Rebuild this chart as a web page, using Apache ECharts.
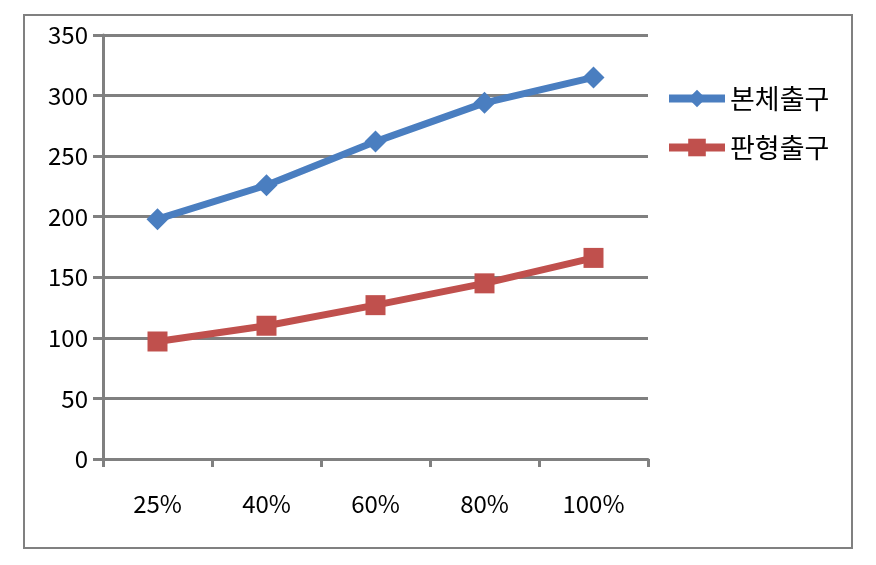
<!DOCTYPE html>
<html>
<head>
<meta charset="utf-8">
<script src="https://cdn.jsdelivr.net/npm/echarts@6/dist/echarts.min.js"></script>
<style>
  html, body { margin: 0; padding: 0; background: #fff; }
  #chart { width: 876px; height: 565px; }
</style>
</head>
<body>
<div id="chart"></div>
<script>
var categories = ['25%', '40%', '60%', '80%', '100%'];
var bodyOut = [198, 226, 262, 294, 315];
var plateOut = [97, 110, 127, 145, 166];
var names = ['본체출구', '판형출구'];

var myChart = echarts.init(document.getElementById('chart'));
var font = '"Noto Sans CJK KR", "Noto Sans", sans-serif';

var option = {
  backgroundColor: '#fff',
  animation: false,
  graphic: [{
    type: 'rect',
    shape: { x: 24, y: 15, width: 828, height: 533 },
    style: { fill: 'none', stroke: '#808080', lineWidth: 2 }
  }],
  legend: {
    orient: 'vertical',
    left: 660,
    top: 80,
    itemWidth: 56,
    itemHeight: 22,
    itemGap: 22,
    lineStyle: { width: 8 },
    textStyle: { fontFamily: font, fontSize: 27, color: '#000', padding: [10, 0, 0, 0] },
    data: names
  },
  grid: { left: 103, right: 228, top: 35, bottom: 106 },
  xAxis: {
    type: 'category',
    data: categories,
    boundaryGap: true,
    axisLine: { lineStyle: { color: '#808080', width: 3 } },
    axisTick: { show: true, length: 8, lineStyle: { color: '#808080', width: 3 } },
    axisLabel: { margin: 33, fontFamily: font, fontSize: 24, color: '#000' }
  },
  yAxis: {
    type: 'value',
    min: 0,
    max: 350,
    interval: 50,
    axisLine: { show: true, lineStyle: { color: '#808080', width: 3 } },
    axisTick: { show: true, length: 10, lineStyle: { color: '#808080', width: 3 } },
    axisLabel: { margin: 15, fontFamily: font, fontSize: 24, color: '#000' },
    splitLine: { lineStyle: { color: '#808080', width: 3 } }
  },
  series: [
    {
      name: names[0],
      type: 'line',
      data: bodyOut,
      symbol: 'diamond',
      symbolSize: 22,
      color: '#4A7EC0',
      lineStyle: { width: 7, color: '#4A7EC0' },
      itemStyle: { color: '#4A7EC0' }
    },
    {
      name: names[1],
      type: 'line',
      data: plateOut,
      symbol: 'rect',
      symbolSize: 20,
      color: '#C0504D',
      lineStyle: { width: 7, color: '#C0504D' },
      itemStyle: { color: '#C0504D' }
    }
  ]
};

myChart.setOption(option);
</script>
</body>
</html>
